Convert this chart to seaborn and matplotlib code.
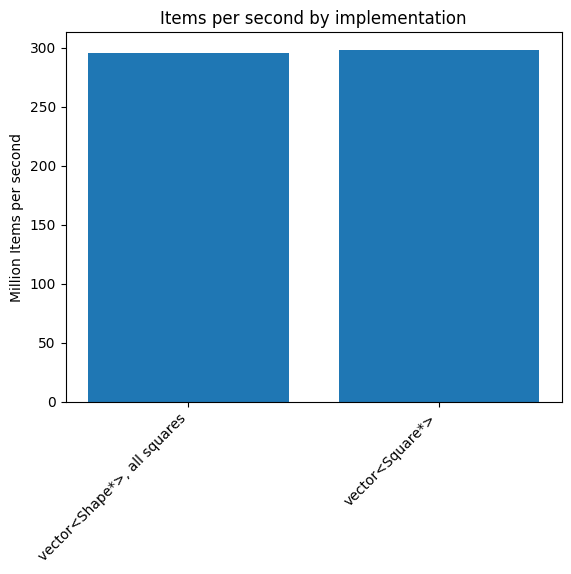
import matplotlib
matplotlib.use("Agg")
import matplotlib.pyplot as plt
import seaborn as sns
import pandas as pd

implementations = ['vector<Shape*>, all squares', 'vector<Square*>']
items_per_sec = [295.8, 298.3]  # million items per second

df = pd.DataFrame({'impl': implementations, 'rate': items_per_sec})

fig, ax = plt.subplots(figsize=(6.4, 4.8), dpi=100)
sns.barplot(data=df, x='impl', y='rate', color='#1f77b4', saturation=1,
            width=0.8, ax=ax)
ax.set_xlim(-0.49, 1.49)
ax.set_xlabel('')
ax.set_ylabel('Million Items per second')
ax.set_title('Items per second by implementation')
plt.setp(ax.get_xticklabels(), rotation=45, ha='right')
plt.savefig('out.png', bbox_inches='tight')
